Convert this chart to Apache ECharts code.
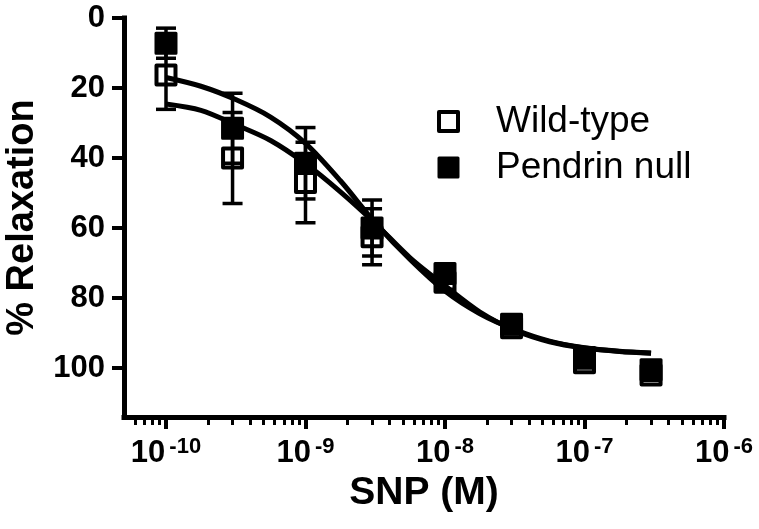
<!DOCTYPE html>
<html><head><meta charset="utf-8">
<script src="https://cdn.jsdelivr.net/npm/echarts@6/dist/echarts.min.js"></script>
<style>html,body{margin:0;padding:0;background:#fff}#c{width:759px;height:529px}</style>
</head><body><div id="c"></div>
<script>
// ---- data ----
const conc = [1e-10, 3e-10, 1e-9, 3e-9, 1e-8, 3e-8, 1e-7, 3e-7];
const wtMean = [16.3, 40, 47, 62.5, 75.5, 88.5, 98.5, 102];
const wtSem  = [9.8, 13, 11.5, 8, 2, 1.5, 1.5, 1.5];
const pnMean = [7.2, 31.5, 41.5, 60, 73, 87.5, 97, 100.5];
const pnSem  = [4.3, 10, 10.2, 8, 2, 1.5, 1.5, 1.5];
const fitConc = [1e-10, 1.78e-10, 3.16e-10, 5.62e-10, 1e-9, 1.78e-9, 3.16e-9, 5.62e-9, 1e-8, 1.78e-8, 3.16e-8, 5.62e-8, 1e-7, 1.78e-7, 3e-7];
const wtFit = [17, 19.5, 23.3, 28.3, 35.8, 46.5, 58.5, 69, 78, 84.5, 89, 92.3, 94.2, 95.2, 95.7];
const pnFit = [24.6, 26.4, 30.5, 35, 41.6, 49.7, 58.7, 68.5, 76.5, 84, 89.2, 92.5, 94.3, 95.3, 95.8];
const xMajor = [1e-10, 1e-9, 1e-8, 1e-7, 1e-6];
const xMinor = [6e-11, 7e-11, 8e-11, 9e-11,
  2e-10, 3e-10, 4e-10, 5e-10, 6e-10, 7e-10, 8e-10, 9e-10,
  2e-9, 3e-9, 4e-9, 5e-9, 6e-9, 7e-9, 8e-9, 9e-9,
  2e-8, 3e-8, 4e-8, 5e-8, 6e-8, 7e-8, 8e-8, 9e-8,
  2e-7, 3e-7, 4e-7, 5e-7, 6e-7, 7e-7, 8e-7, 9e-7];
const yTicks = [0, 20, 40, 60, 80, 100];
const seriesNames = ['Wild-type', 'Pendrin null'];

const FONT = '"Liberation Sans", Arial, Helvetica, sans-serif';
const chart = echarts.init(document.getElementById('c'), null, {renderer: 'canvas'});

function errSeries(name, mean, sem, z) {
  return {
    type: 'custom', name: name, z: z, silent: true,
    data: conc.map((c, i) => [c, mean[i], sem[i]]),
    encode: {x: 0, y: 1},
    renderItem: function (params, api) {
      const x = api.value(0), m = api.value(1), s = api.value(2);
      const a = api.coord([x, m - s]);
      const b = api.coord([x, m + s]);
      const hw = 10;
      const st = {stroke: '#000', lineWidth: 3.5, fill: null};
      return {type: 'group', children: [
        {type: 'line', shape: {x1: a[0], y1: a[1], x2: b[0], y2: b[1]}, style: st},
        {type: 'line', shape: {x1: a[0] - hw, y1: a[1], x2: a[0] + hw, y2: a[1]}, style: st},
        {type: 'line', shape: {x1: b[0] - hw, y1: b[1], x2: b[0] + hw, y2: b[1]}, style: st}
      ]};
    }
  };
}

const axisLineStyle = {color: '#000', width: 5, cap: 'square'};

const option = {
  animation: false,
  backgroundColor: '#fff',
  grid: {left: 124, right: 35, top: 18, bottom: 112, containLabel: false, outerBoundsMode: 'none'},
  legend: {
    orient: 'vertical', left: 432, top: 98,
    itemWidth: 19, itemHeight: 19, itemGap: 9,
    selectedMode: false,
    textStyle: {fontFamily: FONT, fontSize: 37, color: '#000', lineHeight: 34, padding: [0, 0, 0, 33]},
    data: [
      {name: seriesNames[0], icon: 'rect', itemStyle: {color: 'transparent', borderColor: '#000', borderWidth: 4, borderJoin: 'round'}},
      {name: seriesNames[1], icon: 'rect', itemStyle: {color: '#000', borderColor: '#000', borderWidth: 3, borderJoin: 'round'}}
    ]
  },
  xAxis: [{
    type: 'log', logBase: 10, min: 5e-11, max: 1e-6,
    name: 'SNP (M)', nameLocation: 'middle', nameGap: 56,
    nameTextStyle: {fontFamily: FONT, fontSize: 39, fontWeight: 'bold', color: '#000'},
    axisLine: {show: true, onZero: false, lineStyle: axisLineStyle},
    axisTick: {show: true, length: 12, lineStyle: {color: '#000', width: 4}, customValues: xMajor},
    splitLine: {show: false},
    minorTick: {show: false},
    axisLabel: {
      customValues: xMajor, margin: 19,
      formatter: function (v) {
        const e = Math.round(Math.log10(v));
        return '{b|10}{s|' + e + '}';
      },
      rich: {
        b: {fontFamily: FONT, fontSize: 31, fontWeight: 'bold', color: '#000', lineHeight: 34},
        s: {fontFamily: FONT, fontSize: 22, fontWeight: 'bold', color: '#000', verticalAlign: 'top', lineHeight: 22, padding: [0, 0, 0, 4]}
      }
    }
  }, {
    type: 'log', logBase: 10, min: 5e-11, max: 1e-6, gridIndex: 0, position: 'bottom',
    axisLine: {show: false, onZero: false},
    axisTick: {show: true, length: 8, lineStyle: {color: '#000', width: 3}, customValues: xMinor},
    axisLabel: {show: false},
    splitLine: {show: false}
  }],
  yAxis: {
    type: 'value', inverse: true, min: 0, max: 114,
    name: '% Relaxation', nameLocation: 'middle', nameGap: 82, nameRotate: 90,
    nameTextStyle: {fontFamily: FONT, fontSize: 38, fontWeight: 'bold', color: '#000'},
    axisLine: {show: true, lineStyle: axisLineStyle},
    axisTick: {show: true, length: 12, lineStyle: {color: '#000', width: 4}, customValues: yTicks},
    splitLine: {show: false},
    axisLabel: {customValues: yTicks, margin: 19, fontFamily: FONT, fontSize: 31, fontWeight: 'bold', color: '#000'}
  },
  series: [
    {type: 'line', name: 'fitWT', z: 2, silent: true, showSymbol: false, symbol: 'none',
     smooth: 0.3, lineStyle: {color: '#000', width: 5},
     data: fitConc.map((c, i) => [c, wtFit[i]])},
    {type: 'line', name: 'fitPN', z: 2, silent: true, showSymbol: false, symbol: 'none',
     smooth: 0.3, lineStyle: {color: '#000', width: 5},
     data: fitConc.map((c, i) => [c, pnFit[i]])},
    errSeries('errWT', wtMean, wtSem, 3),
    errSeries('errPN', pnMean, pnSem, 3),
    {type: 'scatter', name: seriesNames[0], z: 4, symbol: 'rect', symbolSize: 19,
     itemStyle: {color: 'transparent', borderColor: '#000', borderWidth: 4, borderJoin: 'round', opacity: 1},
     data: conc.map((c, i) => [c, wtMean[i]])},
    {type: 'scatter', name: seriesNames[1], z: 5, symbol: 'rect', symbolSize: 20,
     itemStyle: {color: '#000', borderColor: '#000', borderWidth: 3, borderJoin: 'round', opacity: 1},
     data: conc.map((c, i) => [c, pnMean[i]])}
  ]
};
chart.setOption(option);
</script>
</body></html>
